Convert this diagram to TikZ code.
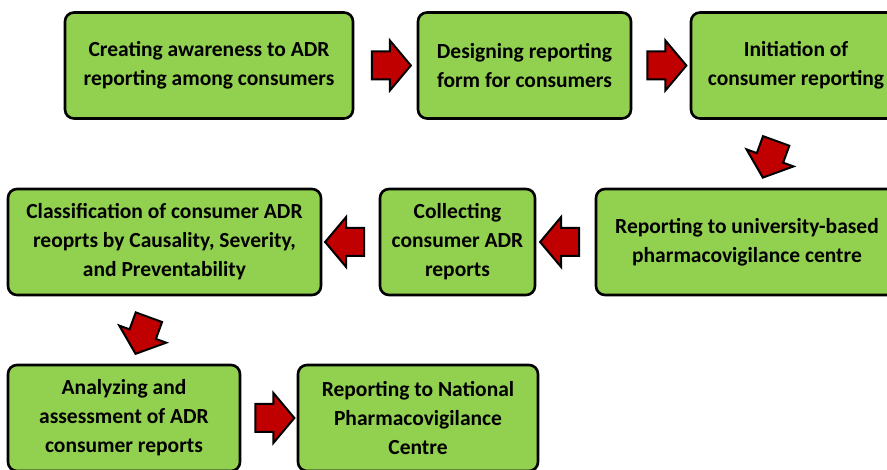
\documentclass[tikz,border=0pt]{standalone}
\usepackage{fontspec}
\setmainfont{Carlito}
\usetikzlibrary{positioning,shapes.arrows,calc}

\definecolor{boxgreen}{RGB}{146,208,80}
\definecolor{arrowred}{RGB}{192,0,0}

\tikzset{
  stage/.style={draw=black, line width=2.6pt, rounded corners=9pt, fill=boxgreen,
    align=center, inner sep=0pt, minimum height=106pt,
    font=\fontsize{21.5}{29}\selectfont\bfseries},
  redarrow/.style={single arrow, draw=black, line width=2pt, fill=arrowred,
    minimum height=39pt, inner xsep=0pt, inner ysep=13pt,
    single arrow head extend=11pt, single arrow tip angle=100}
}

\begin{document}
\begin{tikzpicture}[x=1pt, y=-1pt]
\useasboundingbox (0,0) rectangle (887,470);
\clip (0,0) rectangle (887,470);

% top row, left to right
\node[stage, minimum width=288pt] (aware) at (209,65.5) {Creating awareness to ADR\\reporting among consumers};
\node[stage, minimum width=213pt] (design) at (524.5,65.5) {Designing reporting\\form for consumers};
\node[stage, minimum width=210pt] (init) at (796,65.5) {Initiation of\\consumer reporting};

% middle row, right to left
\node[stage, minimum width=302pt] (univ) at (747,242) {Reporting to university-based\\pharmacovigilance centre};
\node[stage, minimum width=155pt] (collect) at (457.5,242) {Collecting\\consumer ADR\\reports};
\node[stage, minimum width=313pt] (classify) at (164.5,242) {Classification of consumer ADR\\reoprts by Causality, Severity,\\and Preventability};

% bottom row
\node[stage, minimum width=232pt] (analyze) at (124,418) {Analyzing and\\assessment of ADR\\consumer reports};
\node[stage, minimum width=240pt] (national) at (418,418) {Reporting to National\\Pharmacovigilance\\Centre};

% block arrows between the stages
\node[redarrow] (a1) at ($(aware.east)!0.5!(design.west)$) {};
\node[redarrow] (a2) at ($(design.east)!0.5!(init.west)$) {};
\node[redarrow, rotate=-110] (a3) at ($(init.south)!0.5!(univ.north)$) {};
\node[redarrow, rotate=180] (a4) at ($(univ.west)!0.5!(collect.east)$) {};
\node[redarrow, rotate=180] (a5) at ($(collect.west)!0.5!(classify.east)$) {};
\node[redarrow, rotate=-110] (a6) at ($(classify.south)!0.5!(analyze.north)$) {};
\node[redarrow] (a7) at ($(analyze.east)!0.5!(national.west)$) {};
\end{tikzpicture}
\end{document}
